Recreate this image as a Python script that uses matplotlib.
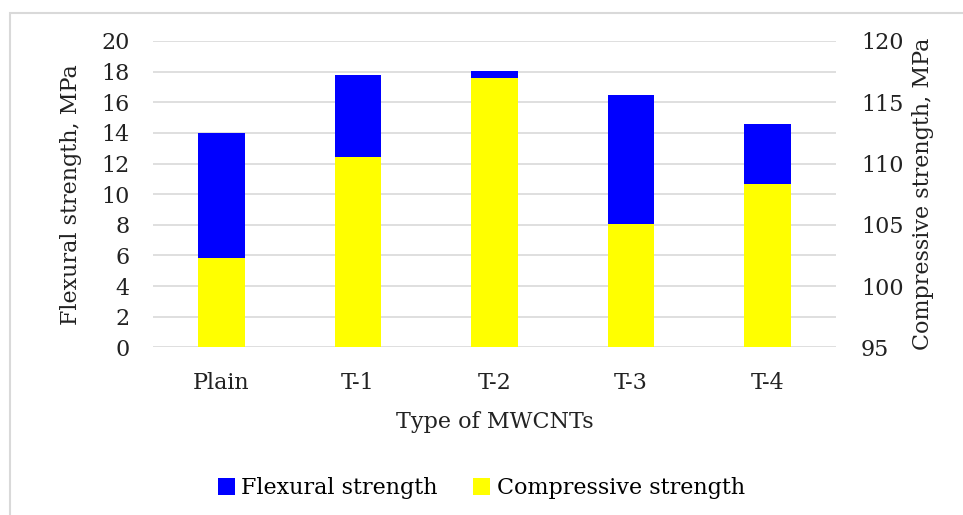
import numpy as np
import matplotlib.pyplot as plt
from matplotlib.patches import Rectangle

plt.rcParams['font.family'] = ['DejaVu Serif']

categories = ["Plain", "T-1", "T-2", "T-3", "T-4"]
flexural = [14.0, 17.8, 18.05, 16.45, 14.6]
compressive = [102.3, 110.5, 117.0, 105.05, 108.3]

fig = plt.figure(figsize=(9.63, 5.15), dpi=100)
ax1 = fig.add_axes([0.159, 0.3256, 0.709, 0.5948])
ax2 = ax1.twinx()

x = np.arange(len(categories))
w = 0.34

ax1.bar(x, flexural, w, color="#0000ff", zorder=2, label="Flexural strength")
ax2.bar(x, np.array(compressive) - 95, w, bottom=95, color="#ffff00", zorder=3,
        label="Compressive strength")

ax1.set_ylim(0, 20)
ax1.set_yticks(range(0, 21, 2))
ax2.set_ylim(95, 120)
ax2.set_yticks(range(95, 121, 5))
ax1.set_xlim(-0.5, len(categories) - 0.5)
ax1.set_xticks(x)
ax1.set_xticklabels(categories)

ax1.yaxis.grid(True, color="#d9d9d9", linewidth=1.2, zorder=0)
ax1.set_axisbelow(True)
for a in (ax1, ax2):
    for s in a.spines.values():
        s.set_visible(False)
    a.tick_params(length=0, labelsize=16, colors="#222222")
ax1.tick_params(axis="y", pad=17)
ax2.tick_params(axis="y", pad=18)
ax1.tick_params(axis="x", pad=18)

ax1.set_xlabel("Type of MWCNTs", fontsize=16, labelpad=12, color="#222222")
ax1.set_ylabel("Flexural strength, MPa", fontsize=16, labelpad=14, color="#222222")
ax2.set_ylabel("Compressive strength, MPa", fontsize=16, labelpad=6, color="#222222")

h1, l1 = ax1.get_legend_handles_labels()
h2, l2 = ax2.get_legend_handles_labels()
fig.legend(h1 + h2, l1 + l2, loc="center", bbox_to_anchor=(0.5, 0.052), ncol=2,
           frameon=False, fontsize=16, handlelength=0.75, handleheight=0.75,
           handletextpad=0.3, columnspacing=1.6)

fig.patches.append(Rectangle((0.0105, -0.05), 1.1, 1.024, transform=fig.transFigure,
                             fill=False, edgecolor="#d9d9d9", linewidth=1.5))

fig.savefig("out.png", dpi=100)
